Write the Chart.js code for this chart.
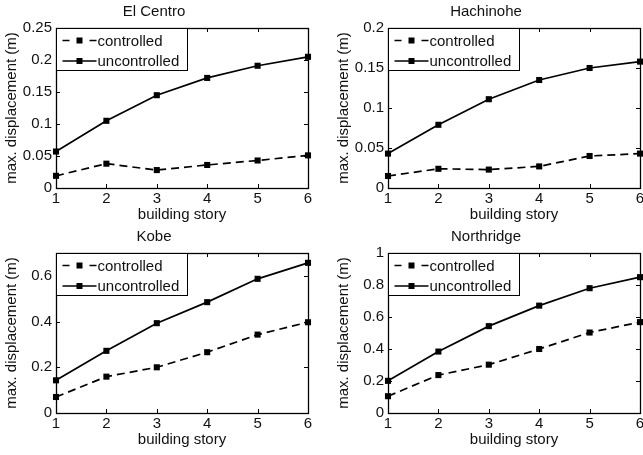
<!DOCTYPE html>
<html>
<head>
<meta charset="utf-8">
<script src="https://cdn.jsdelivr.net/npm/chart.js@4"></script>
<style>
  html, body { margin: 0; padding: 0; background: #fff; }
  body { width: 643px; height: 455px; overflow: hidden; position: relative; }
  .panel { position: absolute; width: 321px; height: 227px; }
</style>
</head>
<body>
<div class="panel" style="left:0;top:0"><canvas id="c0"></canvas></div>
<div class="panel" style="left:332px;top:0"><canvas id="c1"></canvas></div>
<div class="panel" style="left:0;top:225px"><canvas id="c2"></canvas></div>
<div class="panel" style="left:332px;top:225px"><canvas id="c3"></canvas></div>
<script>
const stories = [1, 2, 3, 4, 5, 6];
const seriesNames = ['controlled', 'uncontrolled'];
const titles = ['El Centro', 'Hachinohe', 'Kobe', 'Northridge'];

const elCentroControlled = [0.019, 0.038, 0.028, 0.036, 0.043, 0.051];
const elCentroUncontrolled = [0.057, 0.105, 0.145, 0.172, 0.191, 0.205];
const hachinoheControlled = [0.015, 0.024, 0.023, 0.027, 0.040, 0.043];
const hachinoheUncontrolled = [0.043, 0.079, 0.111, 0.135, 0.150, 0.158];
const kobeControlled = [0.070, 0.159, 0.200, 0.266, 0.343, 0.397];
const kobeUncontrolled = [0.143, 0.272, 0.393, 0.485, 0.587, 0.657];
const northridgeControlled = [0.105, 0.237, 0.302, 0.400, 0.503, 0.568];
const northridgeUncontrolled = [0.201, 0.384, 0.543, 0.671, 0.780, 0.849];

const yMaxes = [0.25, 0.2, 0.7, 1];
const ySteps = [0.05, 0.05, 0.2, 0.2];

const FONT = "'Liberation Sans', Arial, sans-serif";
const TEXT = '#111';

function to_points(values) {
    return values.map((v, i) => ({x: stories[i], y: v}));
}

// matlab style box with inward ticks on all four sides
const boxPlugin = {
    id: 'box',
    afterDatasetsDraw(chart) {
        const ctx = chart.ctx;
        const a = chart.chartArea;
        const xs = chart.scales.x, ys = chart.scales.y;
        ctx.save();
        ctx.strokeStyle = '#000';
        ctx.lineWidth = 1;
        ctx.beginPath();
        xs.ticks.forEach(t => {
            const px = Math.round(xs.getPixelForValue(t.value)) + 0.5;
            ctx.moveTo(px, a.bottom); ctx.lineTo(px, a.bottom - 4);
            ctx.moveTo(px, a.top); ctx.lineTo(px, a.top + 4);
        });
        ys.ticks.forEach(t => {
            const py = Math.round(ys.getPixelForValue(t.value)) + 0.5;
            ctx.moveTo(a.left, py); ctx.lineTo(a.left + 4, py);
            ctx.moveTo(a.right, py); ctx.lineTo(a.right - 4, py);
        });
        ctx.stroke();
        ctx.lineWidth = 1.3;
        ctx.strokeRect(Math.round(a.left) + 0.5, Math.round(a.top) + 0.5,
            Math.round(a.right - a.left), Math.round(a.bottom - a.top));
        ctx.restore();
    },
    afterDraw(chart) {
        // legend box in the upper left corner of the axes
        const ctx = chart.ctx;
        const a = chart.chartArea;
        const x0 = Math.round(a.left) + 0.5, y0 = Math.round(a.top) + 0.5;
        ctx.save();
        ctx.fillStyle = '#fff';
        ctx.fillRect(x0, y0, 131, 42);
        ctx.strokeStyle = '#000';
        ctx.lineWidth = 1;
        ctx.strokeRect(x0, y0, 131, 42);
        chart.data.datasets.forEach((ds, i) => {
            const yy = y0 + 12 + i * 20.5;
            ctx.lineWidth = 1.7;
            ctx.beginPath();
            if (ds.borderDash) {
                ctx.moveTo(x0 + 6, yy); ctx.lineTo(x0 + 13, yy);
                ctx.moveTo(x0 + 33, yy); ctx.lineTo(x0 + 40, yy);
            } else {
                ctx.moveTo(x0 + 6, yy); ctx.lineTo(x0 + 40, yy);
            }
            ctx.stroke();
            ctx.fillStyle = '#000';
            ctx.fillRect(x0 + 20, yy - 3, 6, 6);
            ctx.fillStyle = TEXT;
            ctx.font = '15px ' + FONT;
            ctx.textBaseline = 'middle';
            ctx.fillText(ds.label, x0 + 41, yy + 1);
        });
        ctx.restore();
    }
};

function make_panel(id, index, controlled, uncontrolled) {
    const step = ySteps[index];
    const data = {
        datasets: [
            {
                label: seriesNames[0],
                data: to_points(controlled),
                borderColor: '#000',
                backgroundColor: '#000',
                borderWidth: 1.7,
                borderDash: [8, 5],
                pointStyle: 'rect',
                pointRadius: 4.3,
                pointBorderWidth: 0,
                clip: false
            },
            {
                label: seriesNames[1],
                data: to_points(uncontrolled),
                borderColor: '#000',
                backgroundColor: '#000',
                borderWidth: 1.7,
                pointStyle: 'rect',
                pointRadius: 4.3,
                pointBorderWidth: 0,
                clip: false
            }
        ]
    };

    const options = {
        responsive: false,
        animation: false,
        layout: { padding: { left: 0, right: 13, top: 0, bottom: 0 } },
        plugins: {
            legend: { display: false },
            tooltip: { enabled: false },
            title: {
                display: true,
                text: titles[index],
                color: TEXT,
                font: { family: FONT, size: 15, weight: 'normal' },
                padding: { top: 3, bottom: 7 }
            }
        },
        scales: {
            x: {
                type: 'linear',
                min: 1,
                max: 6,
                ticks: { stepSize: 1, color: TEXT, font: { family: FONT, size: 15 }, padding: 2, maxRotation: 0 },
                grid: { drawOnChartArea: false, drawTicks: false },
                border: { display: false },
                title: { display: true, text: 'building story', color: TEXT, font: { family: FONT, size: 15 }, padding: { top: 0, bottom: 3 } },
                afterFit: s => { s.height = 39; }
            },
            y: {
                min: 0,
                max: yMaxes[index],
                ticks: {
                    stepSize: step,
                    color: TEXT,
                    font: { family: FONT, size: 15 },
                    padding: 4,
                    callback: v => String(+v.toFixed(4))
                },
                afterBuildTicks: s => {
                    s.ticks = s.ticks.filter(t => Math.abs(t.value / step - Math.round(t.value / step)) < 1e-6);
                },
                grid: { drawOnChartArea: false, drawTicks: false },
                border: { display: false },
                title: { display: true, text: 'max. displacement (m)', color: TEXT, font: { family: FONT, size: 15 }, padding: { top: 3, bottom: 0 } },
                afterFit: s => { s.width = 56; }
            }
        }
    };

    const element = document.getElementById(id);
    element.width = 321;
    element.height = 227;
    return new Chart(element, { type: 'line', data: data, options: options, plugins: [boxPlugin] });
}

make_panel('c0', 0, elCentroControlled, elCentroUncontrolled);
make_panel('c1', 1, hachinoheControlled, hachinoheUncontrolled);
make_panel('c2', 2, kobeControlled, kobeUncontrolled);
make_panel('c3', 3, northridgeControlled, northridgeUncontrolled);
</script>
</body>
</html>
